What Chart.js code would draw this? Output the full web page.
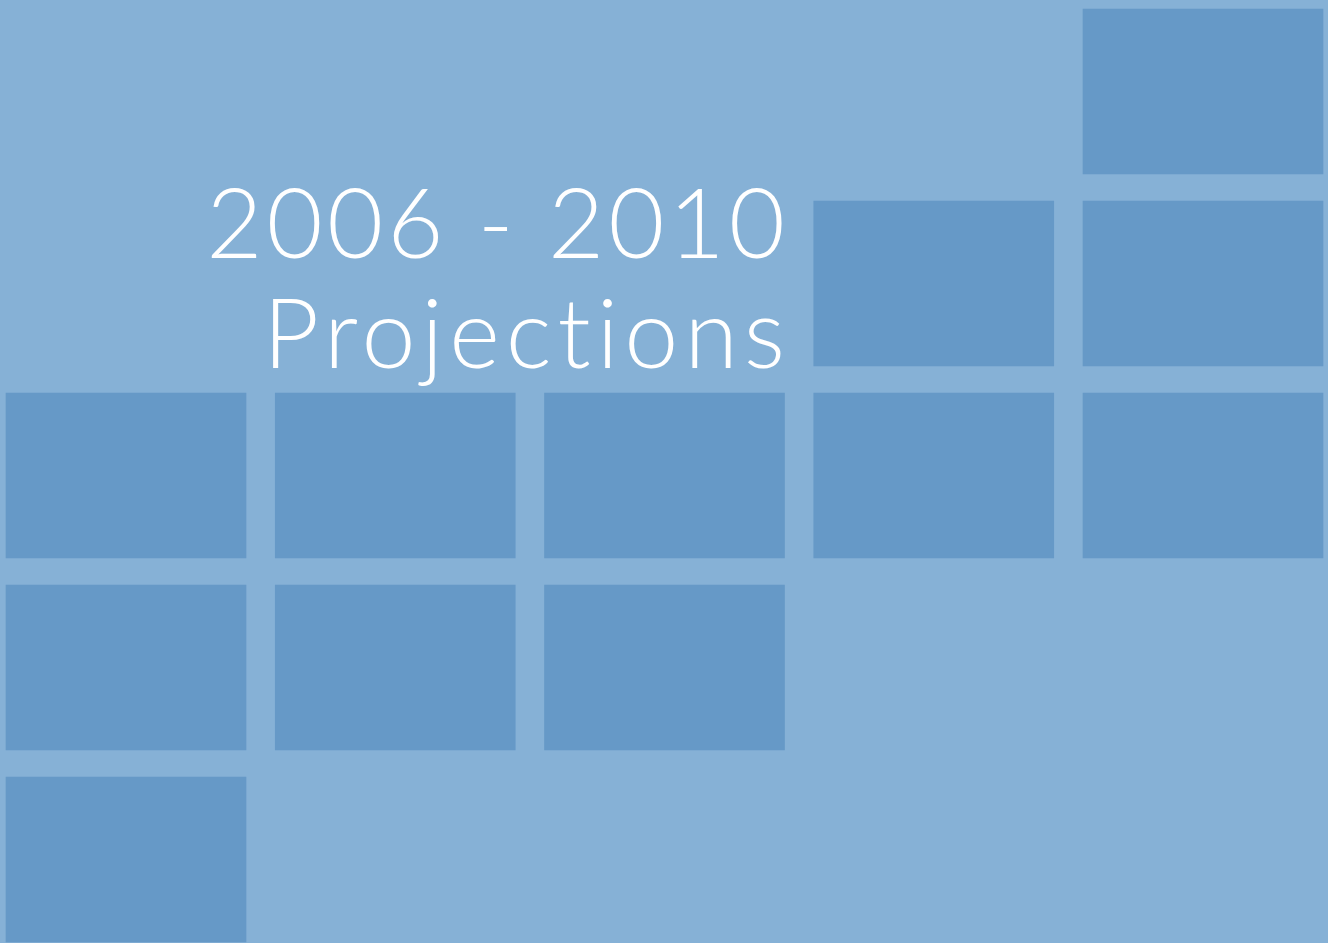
<!DOCTYPE html>
<html>
<head>
<meta charset="utf-8">
<title>2006 - 2010 Projections</title>
<script src="https://cdn.jsdelivr.net/npm/chart.js@4/dist/chart.umd.min.js"></script>
<style>
  html, body { margin: 0; padding: 0; background: #86b1d6; overflow: hidden; }
  #wrap { position: relative; width: 1328px; height: 943px; }
</style>
</head>
<body>
<div id="wrap"><canvas id="blockChart"></canvas></div>
<script>
// data: one column of blocks per group, first filled row and number of blocks
var columns = [0, 1, 2, 3, 4];
var firstRow = [2, 2, 2, 1, 0];
var blockCount = [3, 2, 2, 2, 3];
var rows = [0, 1, 2, 3, 4];
var titleLines = ['2006 - 2010', 'Projections'];

var blockColor = '#6699c7';
var cellFill = 165 / 192; // block height as a share of one row

// one dataset per row, a floating bar for each column that has a block there
var datasets = rows.map(function (r) {
    var pts = [];
    columns.forEach(function (c, i) {
        if (r >= firstRow[i] && r < firstRow[i] + blockCount[i]) {
            pts.push({ x: c, y: [r, r + cellFill] });
        }
    });
    return {
        label: 'row ' + r,
        data: pts,
        backgroundColor: blockColor,
        borderWidth: 0,
        grouped: false,
        barThickness: 240
    };
});

var titlePlugin = {
    id: 'titleText',
    afterDatasetsDraw: function (chart) {
        var ctx = chart.ctx;
        var spacing = [4, 6];
        var baseY = [258, 368];
        ctx.save();
        ctx.fillStyle = '#ffffff';
        ctx.textAlign = 'right';
        ctx.textBaseline = 'alphabetic';
        ctx.font = '300 97px Lato, "Open Sans", sans-serif';
        for (var i = 0; i < titleLines.length; i++) {
            ctx.letterSpacing = spacing[i] + 'px';
            // trailing spacing is added after the last glyph, so shift by it
            ctx.fillText(titleLines[i], 785 + spacing[i], baseY[i]);
        }
        ctx.restore();
    }
};

var yMin = -9 / 192;
var xMin = -126 / 269.25;

new Chart(document.getElementById('blockChart'), {
    type: 'bar',
    data: { datasets: datasets },
    options: {
        responsive: true,
        maintainAspectRatio: false,
        animation: false,
        layout: { padding: 0 },
        plugins: {
            legend: { display: false },
            tooltip: { enabled: false },
            title: { display: false }
        },
        scales: {
            x: {
                type: 'linear',
                display: false,
                offset: false,
                min: xMin,
                max: xMin + 1328 / 269.25
            },
            y: {
                type: 'linear',
                display: false,
                reverse: true,
                min: yMin,
                max: yMin + 943 / 192
            }
        }
    },
    plugins: [titlePlugin]
});
</script>
</body>
</html>
